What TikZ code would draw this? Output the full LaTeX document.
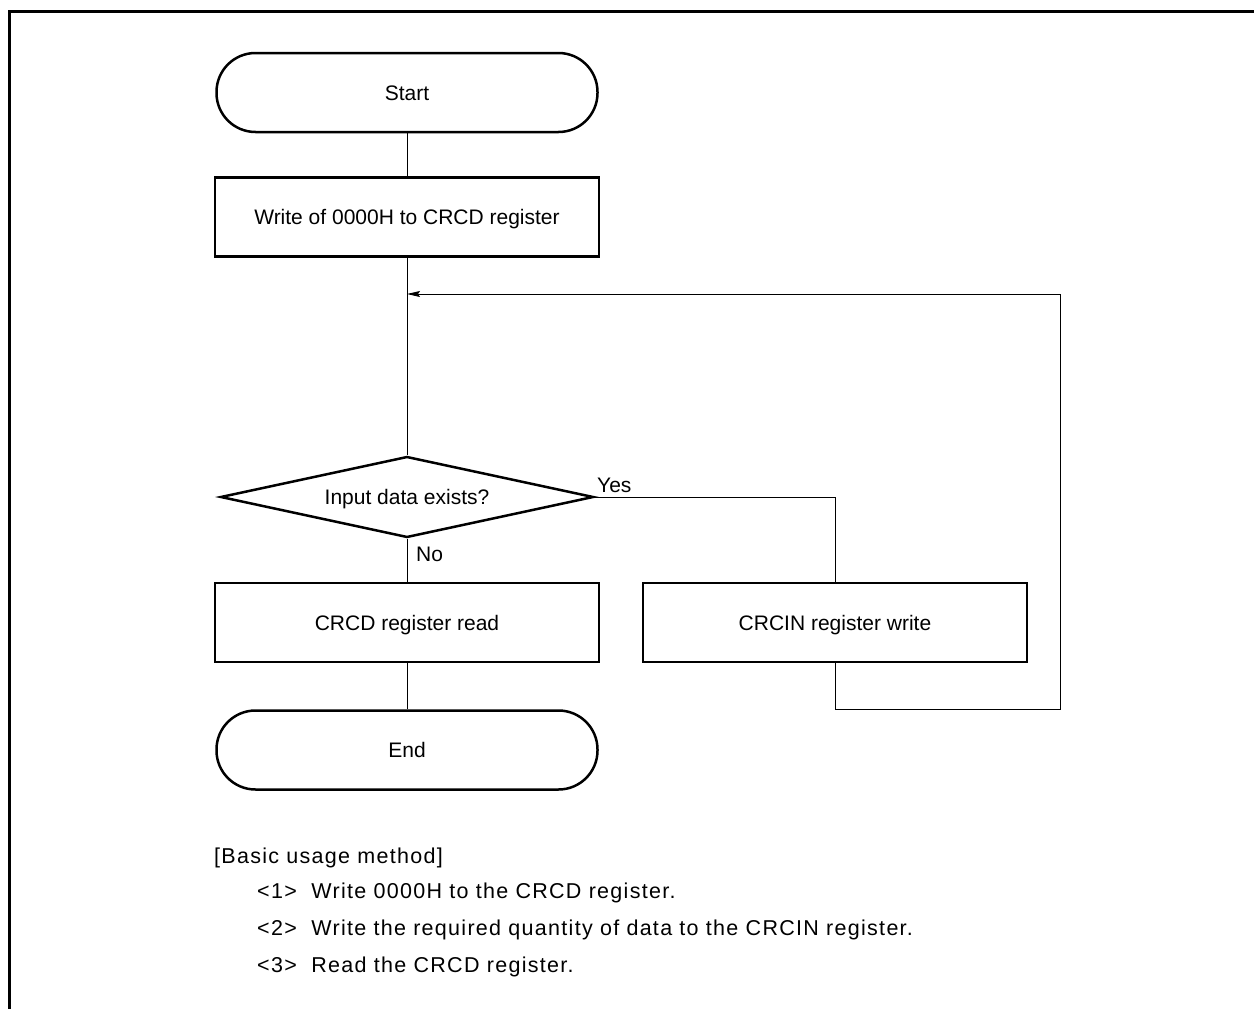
\documentclass[tikz,border=0pt]{standalone}
\usepackage{fontspec}
\setmainfont{Liberation Sans}
\newfontfamily\notefont[LetterSpace=6]{Liberation Sans}
\usetikzlibrary{shapes.geometric,arrows.meta}
\begin{document}
\begin{tikzpicture}[x=1pt,y=-1pt,
  every node/.style={font=\fontsize{21}{25}\selectfont, inner sep=0pt},
  boxtext/.style={text height=15pt, text depth=0pt},
  term/.style={boxtext, draw, line width=2.5pt, rectangle, rounded corners=39pt, minimum width=381pt, minimum height=79pt},
  procbox/.style={boxtext, draw, line width=2.5pt, rectangle, minimum width=384pt, minimum height=79pt},
  decide/.style={boxtext, draw, line width=2.5pt, diamond, aspect=4.6, minimum width=373pt, minimum height=81pt},
  conn/.style={line width=1pt},
  lbl/.style={anchor=base west},
  note/.style={anchor=base west, font=\notefont\fontsize{21.5}{25}\selectfont}
]
\useasboundingbox (0,0) rectangle (1254,1009);
\draw[line width=3pt] (9.5,1009) -- (9.5,11.3) -- (1254,11.3);

\node[term] (start) at (407,92.5) {Start};
\node[procbox] (init) at (407,217) {Write of 0000H to CRCD register};
\node[decide] (dia) at (407,497) {Input data exists?};
\node[procbox] (read) at (407,622.5) {CRCD register read};
\node[procbox] (crcin) at (835,622.5) {CRCIN register write};
\node[term] (end) at (407,750) {End};

\coordinate (lb) at (1060,709);
\coordinate (join) at (407,294);

\draw[conn] (start) -- (init);
\draw[conn] (init) -- (dia);
\draw[conn] (dia) -- (read);
\draw[conn] (read) -- (end);
\draw[conn] (dia.east) -| (crcin.north);
\draw[conn,-{Stealth[length=13pt,width=6pt,inset=2pt]}] (crcin.south) |- (lb) |- (join);

\node[lbl] (yes) at (597,492) {Yes};
\node[lbl] (no) at (416,561) {No};

\node[note] (t0) at (214,863) {[Basic usage method]};
\node[note] (t1) at (257,898) {<1>\ \ Write 0000H to the CRCD register.};
\node[note] (t2) at (257,935) {<2>\ \ Write the required quantity of data to the CRCIN register.};
\node[note] (t3) at (257,972) {<3>\ \ Read the CRCD register.};
\end{tikzpicture}
\end{document}
